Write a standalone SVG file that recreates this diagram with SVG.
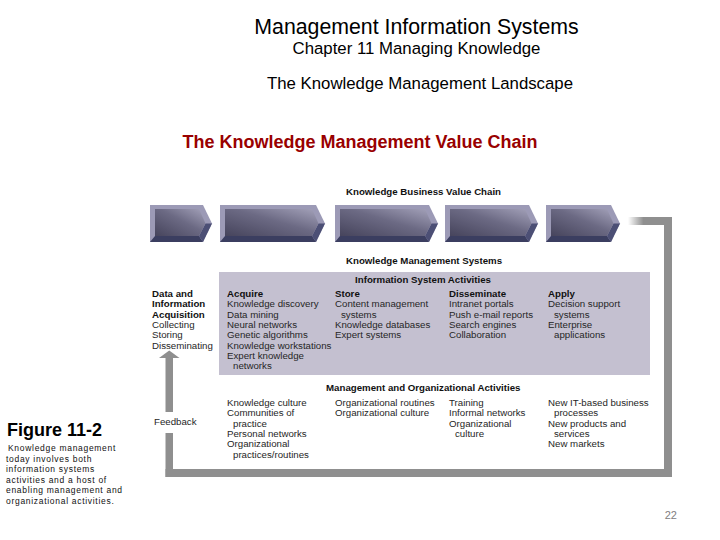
<svg xmlns="http://www.w3.org/2000/svg" width="720" height="540" viewBox="0 0 720 540">
<defs>
<style>
.f{font-family:"Liberation Sans",Arial,Helvetica,sans-serif}
.t{font-family:"Liberation Sans",Arial,Helvetica,sans-serif;font-size:9.7px;fill:#262626}
.b{font-weight:bold;fill:#111}
.bevel{fill:#9c9ab6}
.bot{fill:#3b3e60}
.side{fill:#4c4f75}
.face{fill:url(#faceGrad)}
.loop{fill:#8f8f8f}
.cap{font-family:"Liberation Sans",Arial,Helvetica,sans-serif;font-size:8.5px;letter-spacing:0.7px;fill:#111}
</style>
<linearGradient id="faceGrad" x1="0" y1="1" x2="1" y2="0">
<stop offset="0" stop-color="#46445c"/>
<stop offset="0.55" stop-color="#6c6a84"/>
<stop offset="1" stop-color="#a4a2ba"/>
</linearGradient>
<linearGradient id="fadeGrad" x1="0" y1="0" x2="1" y2="0">
<stop offset="0" stop-color="#8f8f8f" stop-opacity="0"/>
<stop offset="0.35" stop-color="#8f8f8f" stop-opacity="1"/>
<stop offset="1" stop-color="#8f8f8f"/>
</linearGradient>
</defs>
<rect x="0" y="0" width="720" height="540" fill="#ffffff"/>

<g id="titles">
<text class="f" x="416.5" y="34" font-size="21.3" text-anchor="middle" fill="#000">Management Information Systems</text>
<text class="f" x="416.5" y="54" font-size="16.8" text-anchor="middle" fill="#000">Chapter 11 Managing Knowledge</text>
<text class="f" x="420" y="89" font-size="16.8" text-anchor="middle" fill="#000">The Knowledge Management Landscape</text>
<text class="f" x="360" y="148" font-size="18" font-weight="bold" text-anchor="middle" fill="#990000">The Knowledge Management Value Chain</text>
</g>

<g id="figure-caption">
<text class="f" x="7" y="436" font-size="18" font-weight="bold" fill="#000">Figure 11-2</text>
<text class="cap" x="8" y="451">Knowledge management</text>
<text class="cap" x="6" y="461.5">today involves both</text>
<text class="cap" x="6" y="472">information systems</text>
<text class="cap" x="6" y="482.5">activities and a host of</text>
<text class="cap" x="6" y="493">enabling management and</text>
<text class="cap" x="6" y="503.5">organizational activities.</text>
</g>

<g id="connectors">
<rect x="628" y="217" width="44" height="8" fill="url(#fadeGrad)"/>
<rect class="loop" x="664" y="217" width="8" height="260"/>
<rect class="loop" x="165.5" y="469" width="506.5" height="8"/>
<rect class="loop" x="165.5" y="433" width="7.5" height="44"/>
<rect class="loop" x="165.5" y="357" width="7.5" height="55"/>
<polygon class="loop" points="159,358 169.25,350.5 179.5,358"/>
<text class="t" x="154" y="425">Feedback</text>
</g>

<g id="business-value-chain">
<text class="t b" x="346" y="195">Knowledge Business Value Chain</text>
<g id="chevron1">
<polygon class="bevel" points="150,205 203,205 212,223.5 203,242 150,242"/>
<polygon class="bot" points="150,242 155,236 199,236 203,242"/>
<polygon class="side" points="212,223.5 203,242 199,236 205.5,223.5"/>
<polygon class="face" points="155,209 199,209 205.5,223.5 199,236 155,236"/>
</g>
<g id="chevron2">
<polygon class="bevel" points="220,205 316,205 325,223.5 316,242 220,242"/>
<polygon class="bot" points="220,242 225,236 312,236 316,242"/>
<polygon class="side" points="325,223.5 316,242 312,236 318.5,223.5"/>
<polygon class="face" points="225,209 312,209 318.5,223.5 312,236 225,236"/>
</g>
<g id="chevron3">
<polygon class="bevel" points="335,205 429,205 438,223.5 429,242 335,242"/>
<polygon class="bot" points="335,242 340,236 425,236 429,242"/>
<polygon class="side" points="438,223.5 429,242 425,236 431.5,223.5"/>
<polygon class="face" points="340,209 425,209 431.5,223.5 425,236 340,236"/>
</g>
<g id="chevron4">
<polygon class="bevel" points="445,205 529,205 538,223.5 529,242 445,242"/>
<polygon class="bot" points="445,242 450,236 525,236 529,242"/>
<polygon class="side" points="538,223.5 529,242 525,236 531.5,223.5"/>
<polygon class="face" points="450,209 525,209 531.5,223.5 525,236 450,236"/>
</g>
<g id="chevron5">
<polygon class="bevel" points="546,205 611,205 620,223.5 611,242 546,242"/>
<polygon class="bot" points="546,242 551,236 607,236 611,242"/>
<polygon class="side" points="620,223.5 611,242 607,236 613.5,223.5"/>
<polygon class="face" points="551,209 607,209 613.5,223.5 607,236 551,236"/>
</g>
</g>

<g id="km-systems">
<text class="t b" x="346" y="264">Knowledge Management Systems</text>
<rect x="219" y="272" width="431" height="103" fill="#c4c0d0"/>
<text class="t b" x="423" y="283" text-anchor="middle">Information System Activities</text>
</g>

<g id="data-acquisition">
<text class="t b" x="152" y="297">Data and</text>
<text class="t b" x="152" y="307.3">Information</text>
<text class="t b" x="152" y="317.6">Acquisition</text>
<text class="t" x="152" y="327.9">Collecting</text>
<text class="t" x="152" y="338.2">Storing</text>
<text class="t" x="152" y="348.5">Disseminating</text>
</g>

<g id="acquire">
<text class="t b" x="227" y="297">Acquire</text>
<text class="t" x="227" y="307.3">Knowledge discovery</text>
<text class="t" x="227" y="317.6">Data mining</text>
<text class="t" x="227" y="327.9">Neural networks</text>
<text class="t" x="227" y="338.2">Genetic algorithms</text>
<text class="t" x="227" y="348.5">Knowledge workstations</text>
<text class="t" x="227" y="358.8">Expert knowledge</text>
<text class="t" x="233" y="369.1">networks</text>
</g>

<g id="store">
<text class="t b" x="335" y="297">Store</text>
<text class="t" x="335" y="307.3">Content management</text>
<text class="t" x="341" y="317.6">systems</text>
<text class="t" x="335" y="327.9">Knowledge databases</text>
<text class="t" x="335" y="338.2">Expert systems</text>
</g>

<g id="disseminate">
<text class="t b" x="449" y="297">Disseminate</text>
<text class="t" x="449" y="307.3">Intranet portals</text>
<text class="t" x="449" y="317.6">Push e-mail reports</text>
<text class="t" x="449" y="327.9">Search engines</text>
<text class="t" x="449" y="338.2">Collaboration</text>
</g>

<g id="apply">
<text class="t b" x="548" y="297">Apply</text>
<text class="t" x="548" y="307.3">Decision support</text>
<text class="t" x="554" y="317.6">systems</text>
<text class="t" x="548" y="327.9">Enterprise</text>
<text class="t" x="554" y="338.2">applications</text>
</g>

<g id="mgmt-org-activities">
<text class="t b" x="326" y="391">Management and Organizational Activities</text>
</g>

<g id="org-acquire">
<text class="t" x="227" y="406">Knowledge culture</text>
<text class="t" x="227" y="416.3">Communities of</text>
<text class="t" x="233" y="426.6">practice</text>
<text class="t" x="227" y="436.9">Personal networks</text>
<text class="t" x="227" y="447.2">Organizational</text>
<text class="t" x="233" y="457.5">practices/routines</text>
</g>

<g id="org-store">
<text class="t" x="335" y="406">Organizational routines</text>
<text class="t" x="335" y="416.3">Organizational culture</text>
</g>

<g id="org-disseminate">
<text class="t" x="449" y="406">Training</text>
<text class="t" x="449" y="416.3">Informal networks</text>
<text class="t" x="449" y="426.6">Organizational</text>
<text class="t" x="455" y="436.9">culture</text>
</g>

<g id="org-apply">
<text class="t" x="548" y="406">New IT-based business</text>
<text class="t" x="554" y="416.3">processes</text>
<text class="t" x="548" y="426.6">New products and</text>
<text class="t" x="554" y="436.9">services</text>
<text class="t" x="548" y="447.2">New markets</text>
</g>

<text class="f" x="677" y="519" font-size="11" text-anchor="end" fill="#808080">22</text>
</svg>
